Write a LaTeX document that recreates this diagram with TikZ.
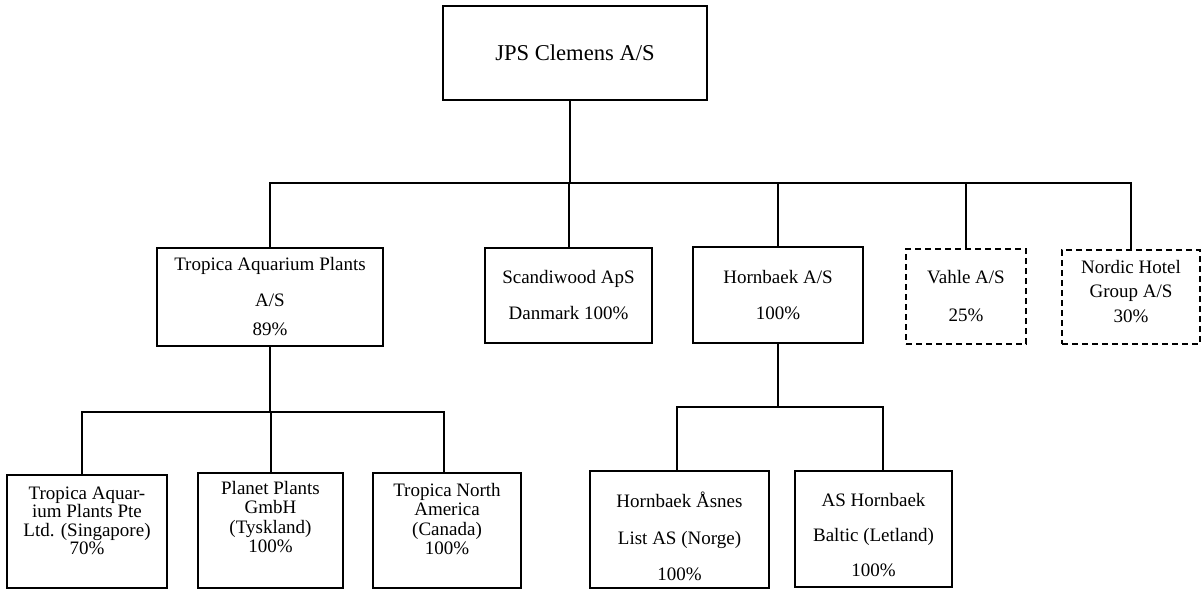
\documentclass[tikz,border=0pt]{standalone}
\usepackage{fontspec}
\setmainfont{Liberation Serif}
\begin{document}
\begin{tikzpicture}[x=0.5pt,y=-0.5pt,
  box/.style={draw, line width=1pt, rectangle, inner sep=0pt},
  dbox/.style={box, dash pattern=on 3pt off 2pt},
  lbl/.style={align=center, inner sep=0pt, font=\fontsize{9.5}{18}\selectfont},
  wire/.style={line width=1pt, line join=miter}]
\useasboundingbox (0,0) rectangle (1203,590);

% top
\node[box, minimum width=132pt, minimum height=47pt, font=\fontsize{11.3}{14}\selectfont] (jps) at (575,53) {JPS Clemens A/S};

% level 2
\node[box, lbl, minimum width=113pt, minimum height=49pt] (trop) at (270,297) {Tropica Aquarium Plants\\A/S\\[-3.5pt]89\%};
\node[box, lbl, minimum width=83.5pt, minimum height=47.5pt] (scand) at (568.5,295.5) {Scandiwood ApS\\Danmark 100\%};
\node[box, lbl, minimum width=85pt, minimum height=48pt] (hornb) at (778,295) {Hornbaek A/S\\100\%};
\node[dbox, lbl, minimum width=60pt, minimum height=47.5pt, font=\fontsize{9.5}{19}\selectfont] (vahle) at (966,296.5) {Vahle A/S\\25\%};
\node[dbox, minimum width=69pt, minimum height=47pt,
  label={[lbl, font=\fontsize{9.5}{12.3}\selectfont, yshift=2.75pt]center:{Nordic Hotel\\Group A/S\\30\%}}] (nordic) at (1131,297) {};

% level 3
\node[box, minimum width=80pt, minimum height=56.5pt,
  label={[lbl, font=\fontsize{9.5}{9.2}\selectfont, yshift=5.25pt]center:{Tropica Aquar-\\ium Plants Pte\\Ltd. (Singapore)\\70\%}}] (tap) at (87,531.5) {};
\node[box, minimum width=72.5pt, minimum height=57.5pt,
  label={[lbl, font=\fontsize{9.5}{9.7}\selectfont, yshift=6.75pt]center:{Planet Plants\\GmbH\\(Tyskland)\\100\%}}] (pp) at (270.5,530.5) {};
\node[box, minimum width=74pt, minimum height=57.5pt,
  label={[lbl, font=\fontsize{9.5}{9.7}\selectfont, yshift=5.75pt]center:{Tropica North\\America\\(Canada)\\100\%}}] (tna) at (447,530.5) {};
\node[box, minimum width=89.5pt, minimum height=58.5pt,
  label={[lbl, font=\fontsize{9.5}{18.25}\selectfont, yshift=-3.5pt]center:{Hornbaek Åsnes\\List AS (Norge)\\100\%}}] (ha) at (679.5,529.5) {};
\node[box, minimum width=78.5pt, minimum height=58pt,
  label={[lbl, font=\fontsize{9.5}{17.5}\selectfont, yshift=-3.25pt]center:{AS Hornbaek\\Baltic (Letland)\\100\%}}] (ahb) at (873.5,529) {};

% main bus
\coordinate (b0) at (570,183);
\draw[wire] (b0 |- jps.south) -- (b0);
\draw[wire] (trop.north) -- (trop.north |- b0) -- (nordic.north |- b0) -- (nordic.north);
\foreach \n in {scand,hornb,vahle} \draw[wire] (\n.north |- b0) -- (\n.north);

% Tropica sub-bus
\coordinate (t1) at (82,412);
\coordinate (t3) at (444,412);
\draw[wire] (trop.south) -- (trop.south |- t1);
\draw[wire] (t1 |- tap.north) -- (t1) -- (t3) -- (t3 |- tna.north);
\draw[wire] (pp.north |- t1) -- (pp.north);

% Hornbaek sub-bus
\coordinate (h1) at (677,407);
\coordinate (h2) at (883,407);
\draw[wire] (hornb.south) -- (hornb.south |- h1);
\draw[wire] (h1 |- ha.north) -- (h1) -- (h2) -- (h2 |- ahb.north);
\end{tikzpicture}
\end{document}
